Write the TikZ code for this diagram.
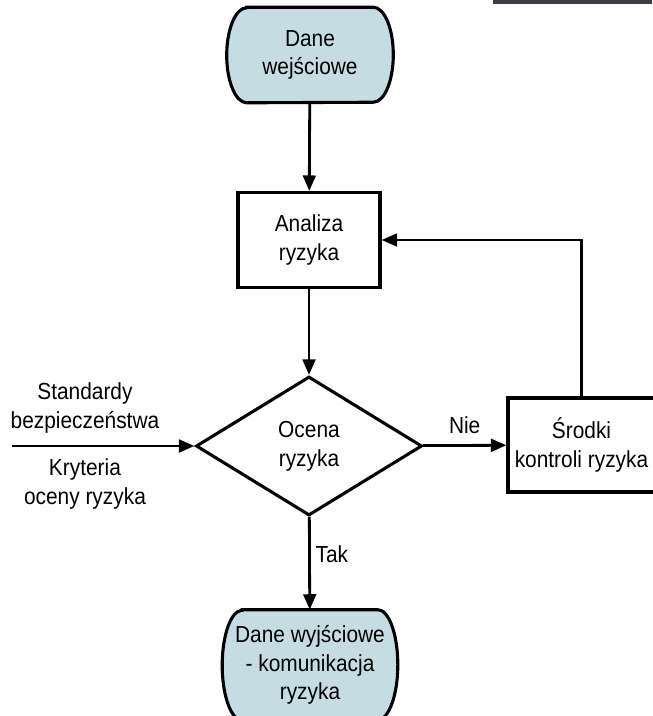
\documentclass[tikz,border=0pt]{standalone}
\usepackage{fontspec}
\setmainfont{Liberation Sans}[FakeStretch=0.9]
\usetikzlibrary{shapes.geometric,arrows.meta,backgrounds}
\definecolor{termfill}{RGB}{198,220,227}
\definecolor{bargray}{RGB}{62,62,70}

\begin{document}
\begin{tikzpicture}[x=0.025cm,y=-0.025cm,
    font=\fontsize{16.5}{20.5}\selectfont,
    term/.style={rectangle,inner sep=0pt,align=center},
    termline/.style={draw,line width=2.2pt,fill=termfill},
    box/.style={rectangle,draw,line width=2.2pt,fill=white,inner sep=0pt,align=center},
    dec/.style={diamond,draw,line width=2.2pt,inner sep=0pt,align=center},
    arr/.style={line width=2pt,-{Triangle[length=11pt,width=9pt]}}]
    \useasboundingbox (0,0) rectangle (652,716);
    \fill[bargray] (493,0) rectangle (652,4);
    \node[term,minimum width=4.15cm,minimum height=2.375cm] (we) at (310,55) {Dane\\wejściowe};
    \node[box,minimum width=3.55cm,minimum height=2.375cm] (an) at (309,240) {Analiza\\ryzyka};
    \node[dec,minimum width=5.65cm,minimum height=3.475cm] (oc) at (309,446) {Ocena\\ryzyka};
    \node[box,minimum width=3.675cm,minimum height=2.35cm] (sr) at (581.5,445) {Środki\\kontroli ryzyka};
    \node[term,minimum width=4.375cm,minimum height=2.75cm] (wy) at (310,665) {Dane wyjściowe\\- komunikacja\\ryzyka};
    \begin{pgfonlayer}{background}
    \draw[termline] ([xshift=0.5cm]we.north west) -- ([xshift=-0.5cm]we.north east)
        arc[start angle=90,end angle=-90,x radius=0.5cm,y radius=1.1875cm]
        -- ([xshift=0.5cm]we.south west)
        arc[start angle=270,end angle=90,x radius=0.5cm,y radius=1.1875cm] -- cycle;
    \draw[termline] ([xshift=0.5cm]wy.north west) -- ([xshift=-0.5cm]wy.north east)
        arc[start angle=90,end angle=-90,x radius=0.5cm,y radius=1.375cm]
        -- ([xshift=0.5cm]wy.south west)
        arc[start angle=270,end angle=90,x radius=0.5cm,y radius=1.375cm] -- cycle;
    \end{pgfonlayer}
    \coordinate (in) at (12,446);
    \draw [arr] (we) to (an);
    \draw [arr] (an) to (oc);
    \draw [arr] (oc) to node[above=4pt] {Nie} (sr);
    \draw [arr] (oc) to node[right,pos=0.4] {Tak} (wy);
    \draw [arr] (sr.north) |- (an.east);
    \draw [arr] (in) to node[above=5pt,pos=0.4,align=center] {Standardy\\bezpieczeństwa}
        node[below=5pt,pos=0.4,align=center] {Kryteria\\oceny ryzyka} (oc);
  \end{tikzpicture}
\end{document}
